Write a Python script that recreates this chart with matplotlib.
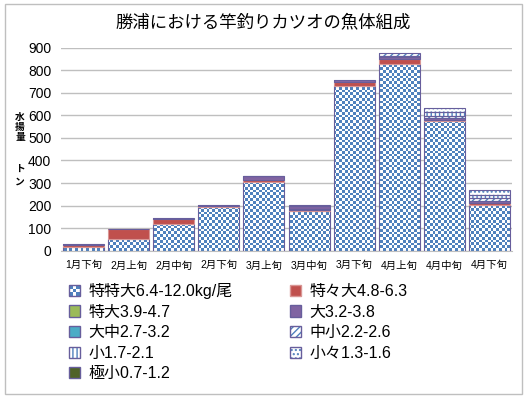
import numpy as np
import matplotlib
matplotlib.use("Agg")
import matplotlib.pyplot as plt
from matplotlib.patches import Patch, Rectangle
from matplotlib.colors import ListedColormap
from matplotlib.legend_handler import HandlerBase

plt.rcParams['font.family'] = ['Liberation Sans', 'Noto Sans CJK JP', 'DejaVu Sans']

TITLE = "勝浦における竿釣りカツオの魚体組成"
CATEGORIES = ["1月下旬", "2月上旬", "2月中旬", "2月下旬", "3月上旬",
              "3月中旬", "3月下旬", "4月上旬", "4月中旬", "4月下旬"]

LABELS = ["特特大6.4-12.0kg/尾", "特々大4.8-6.3", "特大3.9-4.7", "大3.2-3.8",
          "大中2.7-3.2", "中小2.2-2.6", "小1.7-2.1", "小々1.3-1.6", "極小0.7-1.2"]

# landings (tons) per size class
TOKUTOKUDAI = [18, 50, 118, 193, 305, 177, 731, 828, 575, 204]
TOKUTOKUDAI2 = [7, 44, 22, 3, 8, 4, 18, 21, 4, 7]
TOKUDAI = [0, 0, 0, 0, 0, 5, 0, 0, 0, 0]
DAI = [4, 2, 5, 6, 17, 14, 10, 10, 8, 10]
DAICHU = [0, 0, 0, 0, 0, 0, 0, 3, 0, 0]
CHUSHO = [0, 0, 0, 0, 2, 2, 0, 14, 10, 12]
SHO = [0, 0, 0, 0, 0, 0, 0, 0, 18, 15]
SHOSHO = [0, 0, 0, 0, 0, 0, 0, 0, 16, 22]
GOKUSHO = [0, 0, 0, 0, 0, 0, 0, 0, 0, 0]

SERIES = [TOKUTOKUDAI, TOKUTOKUDAI2, TOKUDAI, DAI, DAICHU, CHUSHO, SHO, SHOSHO, GOKUSHO]

BLUE = "#4F81BD"
EDGE = "#675E9C"
# (facecolor, hatch, edgecolor) per series; first one is the checker pattern
STYLES = [
    ("checker", None, EDGE),
    ("#C0504D", None, "#D99694"),
    ("#9BBB59", None, EDGE),
    ("#8064A2", None, EDGE),
    ("#4BACC6", None, EDGE),
    ("white", "/////", EDGE),
    ("white", "||||", EDGE),
    ("white", "....", EDGE),
    ("#4F6228", None, EDGE),
]


class HandlerChecker(HandlerBase):
    def create_artists(self, legend, orig_handle, xdescent, ydescent,
                       width, height, fontsize, trans):
        arts = [Rectangle((-xdescent, -ydescent), width, height,
                          facecolor="white", edgecolor="none")]
        n = 3
        cw, ch = width / n, height / n
        for i in range(n):
            for j in range(n):
                if (i + j) % 2 == 0:
                    arts.append(Rectangle((-xdescent + i * cw, -ydescent + j * ch), cw, ch,
                                          facecolor=BLUE, edgecolor="none"))
        arts.append(Rectangle((-xdescent, -ydescent), width, height,
                              facecolor="none", edgecolor=EDGE, lw=1))
        for a in arts:
            a.set_transform(trans)
        return arts


W, H = 528, 399
fig = plt.figure(figsize=(W / 100, H / 100), dpi=100)
ax = fig.add_axes([61 / W, (H - 250.7) / H, 451 / W, 203 / H])

x = np.arange(len(CATEGORIES))
width = 0.91
bottom = np.zeros(len(CATEGORIES))

# checkerboard image, cells about 2.75 px
ncols, nrows = int(451 / 2.75), int(203 / 2.75)
checker = (np.add.outer(np.arange(nrows), np.arange(ncols)) % 2).astype(float)
cmap = ListedColormap(["white", BLUE])

for values, (face, hatch, edge) in zip(SERIES, STYLES):
    v = np.array(values, dtype=float)
    m = v > 0
    if m.any():
        if face == "checker":
            bars = ax.bar(x[m], v[m], width, bottom=bottom[m], facecolor="none",
                          edgecolor=edge, lw=0.8, zorder=3)
            for rect in bars.patches:
                im = ax.imshow(checker, cmap=cmap, extent=(0, 1, 0, 1),
                               transform=ax.transAxes, aspect="auto",
                               interpolation="nearest", zorder=2)
                im.set_clip_path(rect)
        else:
            if hatch:
                ax.bar(x[m], v[m], width, bottom=bottom[m], facecolor=face,
                       edgecolor=BLUE, hatch=hatch, lw=0, zorder=2)
            else:
                ax.bar(x[m], v[m], width, bottom=bottom[m], facecolor=face,
                       lw=0, zorder=2)
            ax.bar(x[m], v[m], width, bottom=bottom[m], facecolor="none",
                   edgecolor=edge, lw=0.8, zorder=3)
    bottom += v

ax.set_xlim(-0.5, len(CATEGORIES) - 0.5)
ax.set_ylim(0, 900)
ax.set_yticks(np.arange(0, 901, 100))
ax.set_xticks(x)
ax.set_xticklabels(CATEGORIES, fontsize=7.5)
ax.tick_params(axis="y", length=0, pad=7, labelsize=10)
ax.tick_params(axis="x", length=0, pad=7)
ax.yaxis.grid(True, color="#BFBFBF", lw=1)
ax.set_axisbelow(True)
for s in ["top", "right", "left"]:
    ax.spines[s].set_visible(False)
ax.spines["bottom"].set_color("#BFBFBF")

fig.text(263 / W, 1 - 22 / H, TITLE, ha="center", va="center", fontsize=12.5)
fig.text(20 / W, 1 - 127 / H, "水\n揚\n量", ha="center", va="center",
         fontsize=7, linespacing=1.05, fontweight="bold")
fig.text(20 / W, 1 - 175 / H, "ト\nン", ha="center", va="center",
         fontsize=7, linespacing=1.4, fontweight="bold")

# chart area border
fig.add_artist(Rectangle((5 / W, 1 - 394 / H), 517 / W, 390 / H, transform=fig.transFigure,
                         fill=False, edgecolor="#BFBFBF", lw=1))

# legend handles
handles = []
checker_handle = Patch()
for face, hatch, edge in STYLES:
    if face == "checker":
        handles.append(checker_handle)
    elif hatch:
        handles.append((Patch(facecolor=face, edgecolor=BLUE, hatch=hatch, lw=0),
                        Patch(facecolor="none", edgecolor=edge, lw=1)))
    else:
        handles.append(Patch(facecolor=face, edgecolor=edge, lw=1))

order = [0, 2, 4, 6, 8, 1, 3, 5, 7]
fig.legend([handles[i] for i in order], [LABELS[i] for i in order],
           handler_map={checker_handle: HandlerChecker()},
           loc="upper left", bbox_to_anchor=(69 / W, 1 - 283 / H),
           ncol=2, frameon=False, fontsize=11.5, borderpad=0, borderaxespad=0,
           handlelength=0.7, handleheight=0.7, handletextpad=0.5,
           columnspacing=3.6, labelspacing=0.35)

fig.savefig("out.png", dpi=100)
